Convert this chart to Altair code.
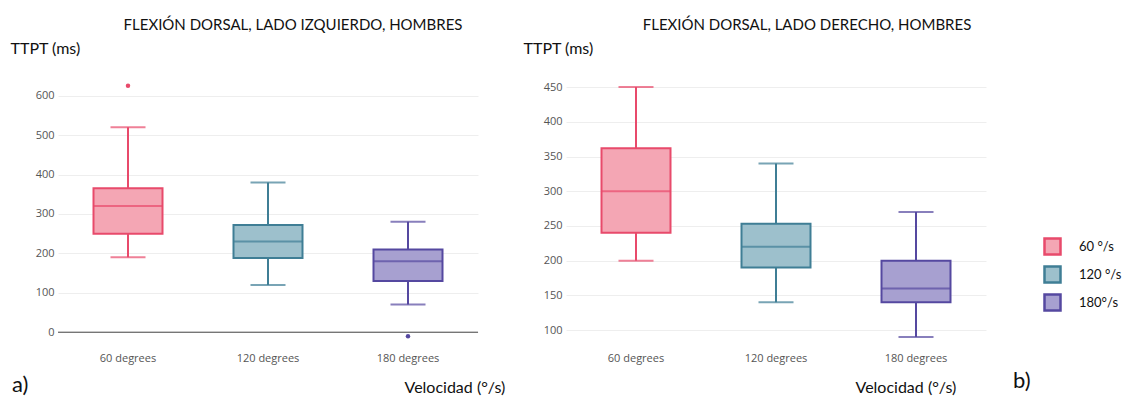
import altair as alt
import pandas as pd

# Speed categories and legend labels
categories = ["60 degrees", "120 degrees", "180 degrees"]
legend_labels = ["60 °/s", "120 °/s", "180°/s"]

# Box statistics (ms), left side
left_lower = [190, 120, 70]
left_q1 = [250, 188, 130]
left_median = [320, 230, 180]
left_q3 = [365, 272, 210]
left_upper = [520, 380, 280]
left_out_cat = ["60 degrees", "180 degrees"]
left_out_val = [625, -10]

# Box statistics (ms), right side
right_lower = [200, 140, 90]
right_q1 = [240, 190, 140]
right_median = [300, 220, 160]
right_q3 = [362, 253, 200]
right_upper = [450, 340, 270]

fill_colors = ["#F4A6B4", "#9DC0CC", "#A7A0D0"]
line_colors = ["#E84A6B", "#3F7E95", "#5548A0"]

TITLE_FONT = "Lato"
TICK_FONT = "Open Sans"
W, H = 420, 270

legend = alt.Legend(title=None, orient="none", legendX=985, legendY=161, padding=0,
                    symbolType="square", symbolSize=256, symbolStrokeWidth=2.5,
                    symbolOpacity=1, labelFont=TITLE_FONT, labelFontSize=13,
                    labelColor="#111", labelOffset=17, rowPadding=1)


def box_frame(lower, q1, med, q3, upper):
    return pd.DataFrame({
        "cat": categories, "leg": legend_labels,
        "lower": lower, "q1": q1, "median": med, "q3": q3, "upper": upper,
    })


def panel(df, out_df, domain, ticks, title, dx, title_x, ytitle_x, letter, letter_x, letter_y,
          zero):
    x_enc = alt.X("cat:N", sort=categories,
                  scale=alt.Scale(domain=categories, paddingInner=0, paddingOuter=0),
                  axis=alt.Axis(title="Velocidad (°/s)", domain=False, ticks=False, grid=False,
                                labelFont=TICK_FONT, labelFontSize=11, labelColor="#555",
                                labelPadding=6, labelAngle=0,
                                titleFont=TITLE_FONT, titleFontSize=16, titleFontWeight="normal",
                                titleColor="#111", titleAlign="left", titleBaseline="alphabetic",
                                titleAnchor="start", titleX=title_x, titleY=46))
    y_scale = alt.Scale(domain=domain, nice=False, zero=False)
    y_axis = alt.Axis(title="TTPT (ms)", values=ticks, domain=False, ticks=False,
                      gridColor="#EEEEEE", gridWidth=1,
                      labelFont=TICK_FONT, labelFontSize=11, labelColor="#555", labelPadding=4,
                      titleFont=TITLE_FONT, titleFontSize=16, titleFontWeight="normal",
                      titleColor="#111", titleAngle=0, titleAlign="left",
                      titleBaseline="alphabetic", titleX=ytitle_x, titleY=-23)

    fill_scale = alt.Scale(domain=legend_labels, range=fill_colors)
    line_scale = alt.Scale(domain=legend_labels, range=line_colors)

    base = alt.Chart(df)
    lower_whisker = base.mark_rule(strokeWidth=2).encode(
        x=x_enc, y=alt.Y("lower:Q", scale=y_scale, axis=y_axis), y2="q1:Q",
        stroke=alt.Stroke("leg:N", scale=line_scale, legend=legend))
    upper_whisker = base.mark_rule(strokeWidth=2).encode(
        x=x_enc, y=alt.Y("q3:Q", scale=y_scale, axis=y_axis), y2="upper:Q",
        stroke=alt.Stroke("leg:N", scale=line_scale, legend=legend))
    caps_low = base.mark_tick(size=35, thickness=2).encode(
        x=x_enc, y=alt.Y("lower:Q", scale=y_scale, axis=y_axis),
        color=alt.Color("leg:N", scale=line_scale, legend=None))
    caps_high = base.mark_tick(size=35, thickness=2).encode(
        x=x_enc, y=alt.Y("upper:Q", scale=y_scale, axis=y_axis),
        color=alt.Color("leg:N", scale=line_scale, legend=None))
    box = base.mark_bar(size=69, strokeWidth=2).encode(
        x=x_enc, y=alt.Y("q1:Q", scale=y_scale, axis=y_axis), y2="q3:Q",
        fill=alt.Fill("leg:N", scale=fill_scale, legend=legend),
        stroke=alt.Stroke("leg:N", scale=line_scale, legend=legend))
    med = base.mark_tick(size=69, thickness=2).encode(
        x=x_enc, y=alt.Y("median:Q", scale=y_scale, axis=y_axis),
        color=alt.Color("leg:N", scale=line_scale, legend=None))

    layers = []
    if zero:
        layers.append(alt.Chart(pd.DataFrame({"z": [0]})).mark_rule(color="#444", strokeWidth=1)
                      .encode(y=alt.Y("z:Q", scale=y_scale, axis=y_axis)))
    layers += [box, lower_whisker, upper_whisker, caps_low, caps_high, med]
    if out_df is not None:
        layers.append(alt.Chart(out_df).mark_circle(size=20, opacity=1).encode(
            x=x_enc, y=alt.Y("val:Q", scale=y_scale, axis=y_axis),
            color=alt.Color("leg:N", scale=line_scale, legend=None)))
    layers.append(alt.Chart(pd.DataFrame({"label": [letter]}))
                  .mark_text(align="left", baseline="alphabetic", font=TITLE_FONT,
                             fontSize=22, color="#111")
                  .encode(x=alt.value(letter_x), y=alt.value(letter_y), text="label:N"))

    return alt.layer(*layers).properties(
        width=W, height=H,
        title=alt.TitleParams(title, font=TITLE_FONT, fontSize=15, fontWeight="normal",
                              color="#111", anchor="middle", dx=dx, offset=-5,
                              baseline="alphabetic"),
    )


left_df = box_frame(left_lower, left_q1, left_median, left_q3, left_upper)
leg_map = dict(zip(categories, legend_labels))
left_out = pd.DataFrame({"cat": left_out_cat, "val": left_out_val,
                         "leg": [leg_map[c] for c in left_out_cat]})
right_df = box_frame(right_lower, right_q1, right_median, right_q3, right_upper)

left = panel(left_df, left_out, [-35, 650], [0, 100, 200, 300, 400, 500, 600],
             "FLEXIÓN DORSAL, LADO IZQUIERDO, HOMBRES", 25, 346, -48, "a)", -46, 316, True)
right = panel(right_df, None, [77, 466], [100, 150, 200, 250, 300, 350, 400, 450],
              "FLEXIÓN DORSAL, LADO DERECHO, HOMBRES", 31, 289, -43, "b)", 447, 312, False)

chart = alt.hconcat(left, right, spacing=88, bounds="flush").resolve_scale(
    x="independent", y="independent"
).properties(
    padding={"left": 10, "top": 18, "right": 0, "bottom": 0},
    background="white",
).configure_view(stroke=None)

chart.save("out.html", embed_options={"renderer": "svg", "actions": False})
